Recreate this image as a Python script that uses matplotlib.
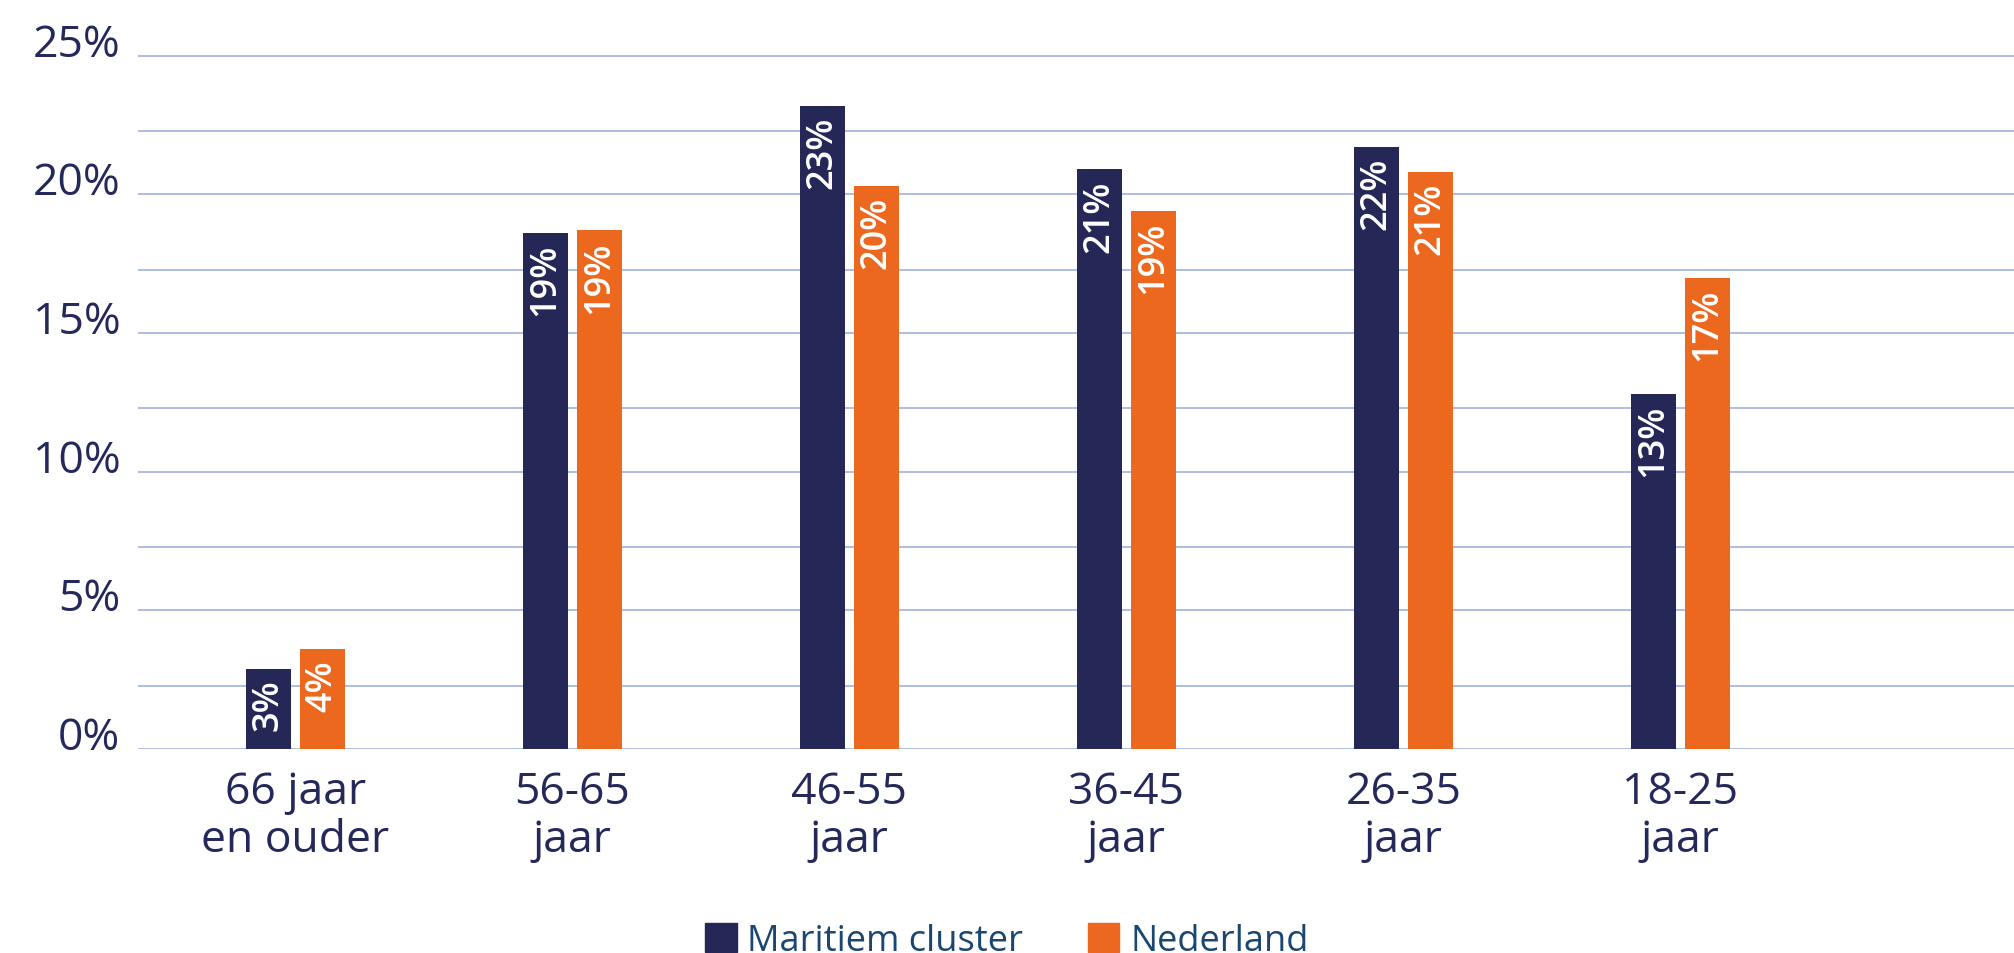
import numpy as np
import matplotlib
matplotlib.use("Agg")
import matplotlib.pyplot as plt
from matplotlib.patches import Patch

plt.rcParams['font.family'] = ['Open Sans', 'DejaVu Sans']

# data
categories = ['66 jaar\nen ouder', '56-65\njaar', '46-55\njaar',
              '36-45\njaar', '26-35\njaar', '18-25\njaar']
maritiem = [2.9, 18.6, 23.2, 20.9, 21.7, 12.8]
nederland = [3.6, 18.7, 20.3, 19.4, 20.8, 17.0]
series_names = ['Maritiem cluster', 'Nederland']
y_ticks = [0, 5, 10, 15, 20, 25]

navy = '#252856'
orange = '#EC681E'
grid_col = '#A7B8E0'
text_col = '#25285A'
legend_col = '#1B4670'

fig = plt.figure(figsize=(20.14, 9.54), dpi=100)
ax = fig.add_axes([0.0687, 0.2138, 0.9313, 0.7558])

x = np.arange(len(categories))
w = 0.1625
off = 0.0978

b1 = ax.bar(x - off, maritiem, w, color=navy, zorder=3)
b2 = ax.bar(x + off, nederland, w, color=orange, zorder=3)

for bars, vals in ((b1, maritiem), (b2, nederland)):
    for rect, v in zip(bars, vals):
        ax.annotate(f'{round(v):.0f}%', (rect.get_x() + rect.get_width() / 2, rect.get_height()),
                    xytext=(0, -7), textcoords='offset points', rotation=90,
                    ha='center', va='top', color='white', fontsize=26,
                    fontweight='semibold', zorder=4)

ax.set_xlim(-0.566, 6.205)
ax.set_ylim(0, 26)

ax.set_yticks(y_ticks)
ax.set_yticklabels([f'{t}%' for t in y_ticks])
ax.set_yticks([t + 2.29 for t in y_ticks[:-1]], minor=True)
ax.grid(axis='y', which='both', color=grid_col, linewidth=1.3, zorder=0)
ax.set_axisbelow(True)

ax.set_xticks(x)
ax.set_xticklabels(categories, linespacing=1.1)
ax.tick_params(axis='x', length=0, pad=15, labelsize=32, labelcolor=text_col)
ax.tick_params(axis='y', which='both', length=0, pad=13, labelsize=32, labelcolor=text_col)
for lab in ax.get_yticklabels():
    lab.set_verticalalignment('baseline')

for s in ax.spines.values():
    s.set_visible(False)

handles = [Patch(color=navy), Patch(color=orange)]
leg = fig.legend(handles, series_names, loc='upper center', bbox_to_anchor=(0.5, 0.031),
                 ncol=2, frameon=False, fontsize=26, handlelength=0.86, handleheight=0.86,
                 handletextpad=0.3, columnspacing=1.8, borderpad=0, borderaxespad=0)
for t in leg.get_texts():
    t.set_color(legend_col)

fig.savefig('out.png', dpi=100)
